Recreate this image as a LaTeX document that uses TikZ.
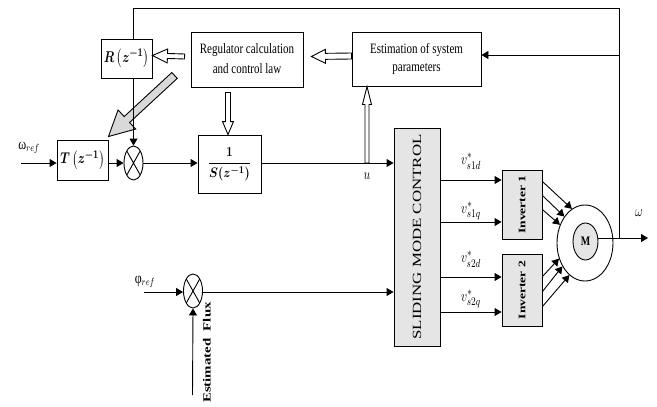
\documentclass[tikz,border=0pt]{standalone}
\usepackage{fontspec}
\setmainfont{Liberation Serif}
\usepackage{amsmath}
\usepackage{graphicx}
\usetikzlibrary{calc,shapes,arrows.meta,positioning}
\newcommand{\tl}[1]{\scalebox{1}[1.3]{#1}}
\newcommand{\wl}[1]{\scalebox{1.35}[1]{#1}}
\tikzset{
     block/.style     = {draw, line width=0.9pt, inner sep=0pt},
     grayblock/.style = {block, fill=black!10},
     mathlbl/.style   = {font=\fontsize{13}{15}\selectfont},
     mult/.style      = {draw, ellipse, line width=0.9pt, minimum width=19pt, minimum height=34pt, inner sep=0pt,
        path picture={\draw[line width=0.9pt]
          (path picture bounding box.north west) -- (path picture bounding box.south east)
          (path picture bounding box.south west) -- (path picture bounding box.north east);}},
     sigedge/.style   = {black, line width=0.9pt, -{Triangle[length=7pt,width=8pt]}},
     wire/.style      = {black, line width=0.9pt},
     hollow/.style args = {#1/#2/#3}{draw, line width=0.9pt, line join=miter, to path={
        let \p1=(\tikztostart), \p2=(\tikztotarget),
            \n1={atan2(\y2-\y1,\x2-\x1)}, \n2={veclen(\x2-\x1,\y2-\y1)-#3} in
        ($(\p1)+(\n1-90:#1)$) -- ($(\p1)+(\n1:\n2)+(\n1-90:#1)$)
        -- ($(\p1)+(\n1:\n2)+(\n1-90:#2)$) -- (\p2)
        -- ($(\p1)+(\n1:\n2)+(\n1+90:#2)$) -- ($(\p1)+(\n1:\n2)+(\n1+90:#1)$)
        -- ($(\p1)+(\n1+90:#1)$) -- cycle}},
    }

\begin{document}
\begin{tikzpicture}[x=1pt, y=-1pt, font=\fontsize{11}{13}\selectfont]
    \useasboundingbox (0,0) rectangle (657,407);
    % regulator part
    \node [block, mathlbl, minimum width=51pt, minimum height=39pt] (R) at (126.5,58.5) {\tl{\boldmath$R\left(z^{-1}\right)$}};
    \node [block, minimum width=112pt, minimum height=55pt, font=\fontsize{11}{15.5}\selectfont] (reg) at (247,59.5)
        {\tl{\begin{tabular}{@{}c@{}}Regulator calculation\\and control law\end{tabular}}};
    \node [block, minimum width=129pt, minimum height=54pt, font=\fontsize{11}{14}\selectfont] (est) at (416.5,59)
        {\tl{\begin{tabular}{@{}c@{}}Estimation of system\\parameters\end{tabular}}};
    \node [block, mathlbl, minimum width=51pt, minimum height=40pt] (T) at (82.5,160) {\tl{\boldmath$T\left(z^{-1}\right)$}};
    \node [mult] (sum1) at (133.5,163) {};
    \node [block, mathlbl, minimum width=63pt, minimum height=58pt] (S) at (229.5,164) {\scalebox{1}[1.15]{\boldmath$\dfrac{1}{S(z^{-1})}$}};
    % drive part
    \node [grayblock, minimum width=46pt, minimum height=218pt, font=\fontsize{12.5}{14}\selectfont] (smc) at (417,237)
        {\rotatebox{90}{\wl{SLIDING MODE CONTROL}}};
    \node [grayblock, minimum width=40pt, minimum height=69pt, font=\bfseries\fontsize{10}{12}\selectfont] (inv1) at (522,204.5)
        {\rotatebox{90}{\wl{Inverter 1}}};
    \node [grayblock, minimum width=40pt, minimum height=72pt, font=\bfseries\fontsize{10}{12}\selectfont] (inv2) at (522,290)
        {\rotatebox{90}{\wl{Inverter 2}}};
    \node [draw, ellipse, line width=0.9pt, minimum width=56pt, minimum height=76pt] (mot) at (585,243) {};
    \node [draw, ellipse, line width=0.9pt, fill=black!10, minimum width=25pt, minimum height=37pt, inner sep=0pt,
        font=\bfseries\fontsize{10}{12}\selectfont] (M) at (585.5,241.5) {\tl{M}};
    \node [mult] (sum2) at (193,291) {};

    \coordinate (win) at (21,163);
    \coordinate (phin) at (144,292);
    \coordinate (fluxin) at (192.5,395);
    \coordinate (ujn) at (367,163);
    \coordinate (fbjn) at (619,238);
    \coordinate (fbtop) at (619,8);
    \coordinate (wout) at (648,238);

    % labels
    \node [font=\fontsize{12}{14}\selectfont] (wreflbl) at (29,148) {\tl{ω$_{ref}$}};
    \node [font=\fontsize{12}{14}\selectfont] (phireflbl) at (145,282) {\tl{φ$_{ref}$}};
    \node [mathlbl] (ulbl) at (367,176) {\tl{$u$}};
    \node [mathlbl] (wlbl) at (639,213) {\tl{$\omega$}};
    \node [mathlbl] (v1d) at (471,161) {\tl{$v^{*}_{s1d}$}};
    \node [mathlbl] (v1q) at (471,211) {\tl{$v^{*}_{s1q}$}};
    \node [mathlbl] (v2d) at (471,259) {\tl{$v^{*}_{s2d}$}};
    \node [mathlbl] (v2q) at (471,299) {\tl{$v^{*}_{s2q}$}};
    \node [rotate=90, anchor=east, inner sep=0pt, font=\bfseries\fontsize{11}{13}\selectfont] (fluxlbl) at (207,302)
        {\wl{Estimated\ \ Flux}};

    % hollow arrows
    \draw [hollow=3pt/7pt/14, fill=white] ([yshift=3pt]est.west) to ([xshift=8pt,yshift=3pt]reg.east);
    \draw [hollow=2.5pt/7pt/15, fill=white] ([xshift=-6pt,yshift=3pt]reg.west) to ([yshift=3pt]R.east);
    \draw [hollow=2.5pt/5.5pt/13, fill=white] ([xshift=-19pt,yshift=-5pt]reg.south) to ([xshift=-1.5pt]S.north);
    \draw [hollow=2pt/4.5pt/18, fill=white] (ujn) to (est.south -| ujn);
    \draw [hollow=4pt/13pt/25, fill=black!15] ($(reg.south west)+(-16,-12)$) to ($(T.north east)+(0,-3)$);

    % signal lines
    \draw [wire] (fbjn) -- (fbtop) -| (R.north -| sum1.north);
    \draw [sigedge] (fbjn |- 0,55) -- (est.east |- 0,55);
    \draw [sigedge] (R.south -| sum1.north) -- (sum1.north);
    \draw [sigedge] (win) -- (T.west |- win);
    \draw [sigedge] (T.east |- sum1.west) -- (sum1.west);
    \draw [sigedge] (sum1.east) -- (S.west |- sum1.east);
    \draw [sigedge] (S.east |- sum1.east) -- (smc.west |- sum1.east);
    \draw [sigedge] (phin) -- (sum2.west |- phin);
    \draw [sigedge] (sum2.east |- phin) -- (smc.west |- phin);
    \draw [sigedge] (fluxin) -- (sum2.south);
    \draw [sigedge] (smc.east |- 0,180) -- (inv1.west |- 0,180);
    \draw [sigedge] (smc.east |- 0,222) -- (inv1.west |- 0,222);
    \draw [sigedge] (smc.east |- 0,277) -- (inv2.west |- 0,277);
    \draw [sigedge] (smc.east |- 0,312) -- (inv2.west |- 0,312);
    \draw [sigedge] ($(inv1.north east)+(0,12)$) -- (mot.111);
    \draw [sigedge] ($(inv1.north east)+(0,26)$) -- (mot.128);
    \draw [sigedge] ($(inv1.north east)+(0,40)$) -- (mot.144);
    \draw [sigedge] ($(inv2.north east)+(0,23)$) -- (mot.211);
    \draw [sigedge] ($(inv2.north east)+(0,38)$) -- (mot.226);
    \draw [sigedge] ($(inv2.north east)+(0,53)$) -- (mot.244);
    \draw [sigedge] (M.east |- wout) -- (wout);
\end{tikzpicture}
\end{document}
